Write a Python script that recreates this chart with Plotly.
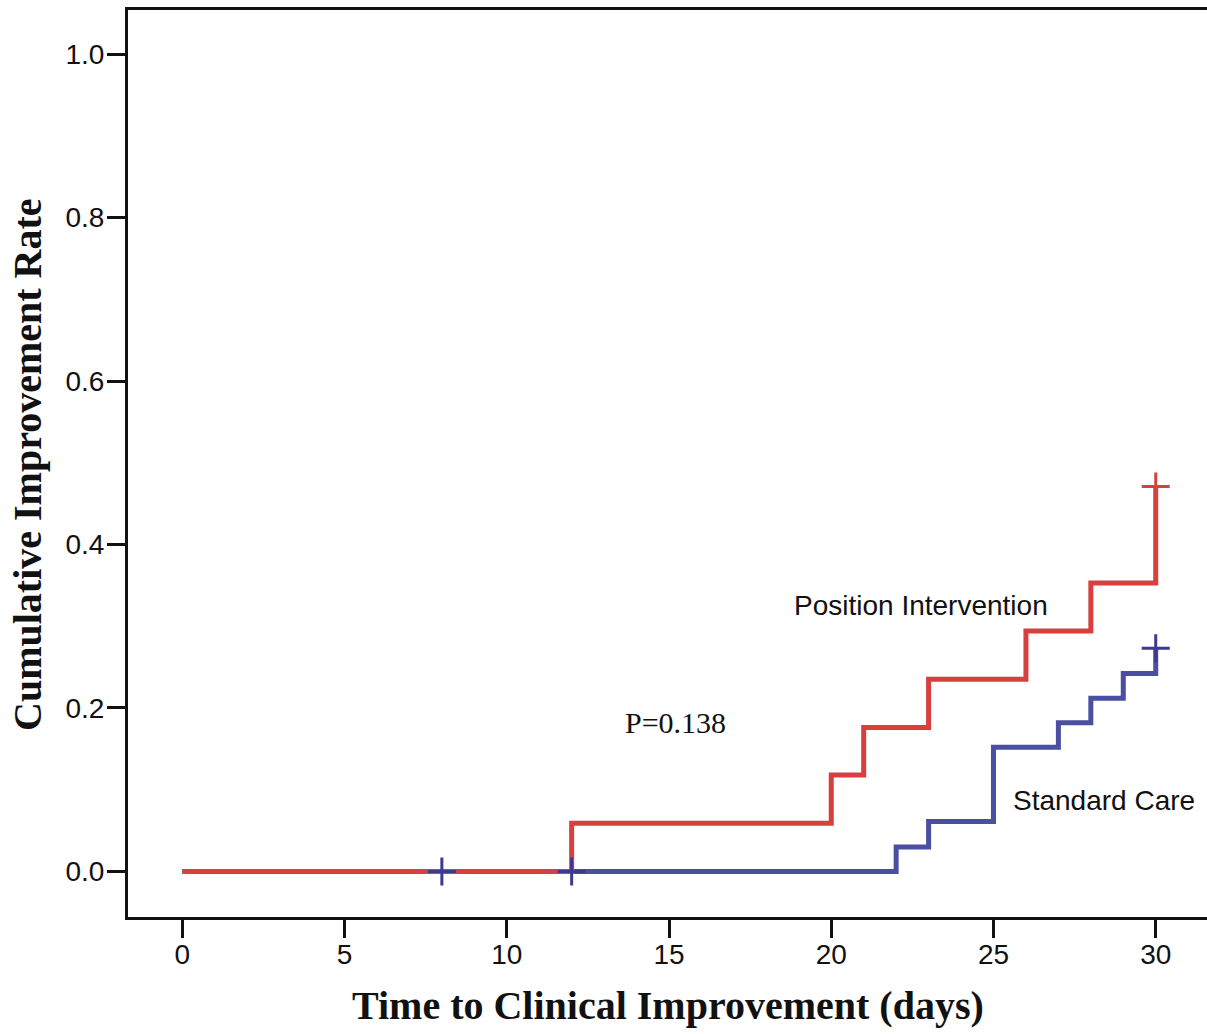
import plotly.graph_objects as go

# Kaplan-Meier style cumulative improvement curves
pos_times = [0, 12, 20, 21, 23, 26, 28, 30]
pos_rate = [0.0, 0.059, 0.118, 0.176, 0.235, 0.294, 0.353, 0.471]
std_times = [0, 22, 23, 25, 27, 28, 29, 30]
std_rate = [0.0, 0.030, 0.061, 0.152, 0.182, 0.212, 0.242, 0.273]

pos_cens_t = [30]
pos_cens_r = [0.471]
std_cens_t = [8, 12, 30]
std_cens_r = [0.0, 0.0, 0.273]

x_ticks = [0, 5, 10, 15, 20, 25, 30]
y_ticks = [0.0, 0.2, 0.4, 0.6, 0.8, 1.0]
y_tick_labels = ["0.0", "0.2", "0.4", "0.6", "0.8", "1.0"]

RED = "#d8403f"
BLUE = "#4a4fa2"
BLUE_MARK = "#3b3a8c"

fig = go.Figure()
fig.add_trace(go.Scatter(x=std_times, y=std_rate, mode="lines",
                         line=dict(color=BLUE, width=5, shape="hv"),
                         name="Standard Care", showlegend=False))
fig.add_trace(go.Scatter(x=pos_times, y=pos_rate, mode="lines",
                         line=dict(color=RED, width=5, shape="hv"),
                         name="Position Intervention", showlegend=False))
fig.add_trace(go.Scatter(x=std_cens_t, y=std_cens_r, mode="markers",
                         marker=dict(symbol="cross-thin", size=20,
                                     line=dict(color=BLUE_MARK, width=3)),
                         showlegend=False))
fig.add_trace(go.Scatter(x=pos_cens_t, y=pos_cens_r, mode="markers",
                         marker=dict(symbol="cross-thin", size=20,
                                     line=dict(color=RED, width=3)),
                         showlegend=False))

PW, PH = 1079, 907  # plot area size in px (left 128, top 10)

fig.add_annotation(x=(921 - 128) / PW, y=(917 - 605) / PH, xref="paper", yref="paper",
                   text="Position Intervention", showarrow=False,
                   font=dict(family="Arial, Liberation Sans", size=28, color="#111"),
                   xanchor="center", yanchor="middle")
fig.add_annotation(x=(1104 - 128) / PW, y=(917 - 800) / PH, xref="paper", yref="paper",
                   text="Standard Care", showarrow=False,
                   font=dict(family="Arial, Liberation Sans", size=28, color="#111"),
                   xanchor="center", yanchor="middle")
fig.add_annotation(x=(675 - 128) / PW, y=(917 - 722) / PH, xref="paper", yref="paper",
                   text="P=0.138", showarrow=False,
                   font=dict(family="Times New Roman, Liberation Serif", size=30, color="#111"),
                   xanchor="center", yanchor="middle")
fig.add_annotation(x=(668 - 128) / PW, y=(917 - 1005) / PH, xref="paper", yref="paper",
                   text="<b>Time to Clinical Improvement (days)</b>", showarrow=False,
                   font=dict(family="Times New Roman, Liberation Serif", size=40, color="#111"),
                   xanchor="center", yanchor="middle")
fig.add_annotation(x=(28 - 128) / PW, y=(917 - 465) / PH, xref="paper", yref="paper",
                   text="<b>Cumulative Improvement Rate</b>", showarrow=False, textangle=-90,
                   font=dict(family="Times New Roman, Liberation Serif", size=40, color="#111"),
                   xanchor="center", yanchor="middle")

fig.update_layout(
    width=1207, height=1034,
    margin=dict(l=128, r=0, t=10, b=117),
    paper_bgcolor="white", plot_bgcolor="white",
    xaxis=dict(range=[-1.673, 31.58], tickvals=x_ticks, ticks="outside", ticklen=18,
               tickwidth=3, tickcolor="#111", showline=True, linecolor="#111", linewidth=3,
               mirror=True, showgrid=False, zeroline=False, ticklabelstandoff=-8,
               tickfont=dict(family="Arial, Liberation Sans", size=28, color="#111")),
    yaxis=dict(range=[-0.0558, 1.054], tickvals=y_ticks, ticktext=y_tick_labels,
               ticks="outside", ticklen=18, tickwidth=3, tickcolor="#111",
               showline=True, linecolor="#111", linewidth=3, showgrid=False, zeroline=False,
               ticklabelstandoff=-3,
               tickfont=dict(family="Arial, Liberation Sans", size=28, color="#111")),
)

fig.write_html("out.html")
